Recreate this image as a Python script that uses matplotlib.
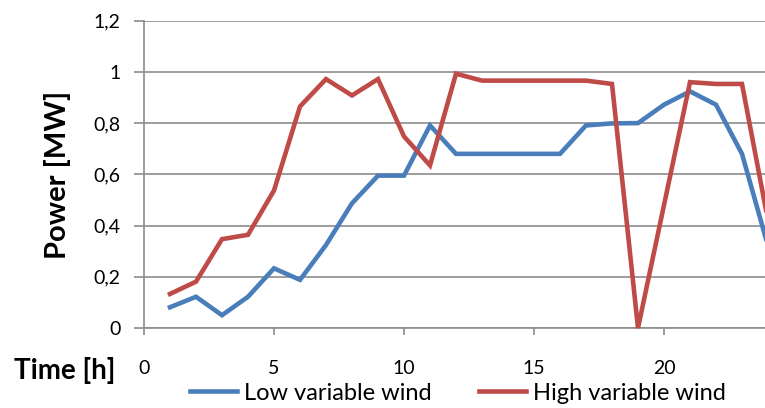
import matplotlib
matplotlib.use("Agg")
import matplotlib.pyplot as plt
from matplotlib.lines import Line2D

plt.rcParams['font.family'] = ['Lato', 'DejaVu Sans']

hours = list(range(1, 25))
low_wind = [0.081, 0.122, 0.050, 0.122, 0.233, 0.188, 0.324, 0.487, 0.595, 0.595,
            0.791, 0.680, 0.680, 0.680, 0.680, 0.680, 0.791, 0.799, 0.800, 0.872,
            0.924, 0.872, 0.680, 0.32]
high_wind = [0.133, 0.181, 0.347, 0.364, 0.537, 0.865, 0.972, 0.908, 0.972, 0.748,
             0.635, 0.993, 0.966, 0.966, 0.966, 0.966, 0.966, 0.953, 0.0, 0.48,
             0.960, 0.953, 0.953, 0.42]
x_ticks = [0, 5, 10, 15, 20]
y_ticks = [0, 0.2, 0.4, 0.6, 0.8, 1.0, 1.2]
y_tick_labels = ["0", "0,2", "0,4", "0,6", "0,8", "1", "1,2"]
series_names = ["Low variable wind", "High variable wind"]
colors = ["#4A7EBB", "#BE4B48"]

fig = plt.figure(figsize=(7.65, 4.08), dpi=100)
ax = fig.add_axes([144/765, 80/408, 650/765, 307.3/408])

ax.plot(hours, low_wind, color=colors[0], lw=3.3, solid_joinstyle='miter', clip_on=False, zorder=3)
ax.plot(hours, high_wind, color=colors[1], lw=3.3, solid_joinstyle='miter', clip_on=False, zorder=3)

ax.set_xlim(0, 25)
ax.set_ylim(0, 1.2)
ax.set_yticks(y_ticks)
ax.set_yticklabels(y_tick_labels)
ax.set_xticks(x_ticks)
ax.set_xticklabels([str(t) for t in x_ticks])

grid_c = "#8C8C8C"
ax.yaxis.grid(True, color=grid_c, lw=1.2)
ax.set_axisbelow(True)
for s in ['top', 'right']:
    ax.spines[s].set_visible(False)
for s in ['left', 'bottom']:
    ax.spines[s].set_color(grid_c)
    ax.spines[s].set_linewidth(1.2)

ax.tick_params(axis='y', direction='out', length=7, width=1.2, color=grid_c, pad=10, labelsize=14)
ax.tick_params(axis='x', direction='out', length=5, width=1.2, color=grid_c, pad=18, labelsize=14)

fig.text(58/765, 1 - 175/408, "Power [MW]", fontsize=21, fontweight='bold', rotation=90,
         ha='center', va='center')
fig.text(65/765, 1 - 370/408, "Time [h]", fontsize=20, fontweight='bold', ha='center', va='center')

handles = [Line2D([0], [0], color=c, lw=3.3) for c in colors]
fig.legend(handles, series_names, loc='center', bbox_to_anchor=(458/765, 1 - 393/408), ncol=2,
           frameon=False, fontsize=17, handlelength=2.0, handletextpad=0.3, columnspacing=2.0,
           borderaxespad=0)

fig.savefig("out.png", dpi=100)
